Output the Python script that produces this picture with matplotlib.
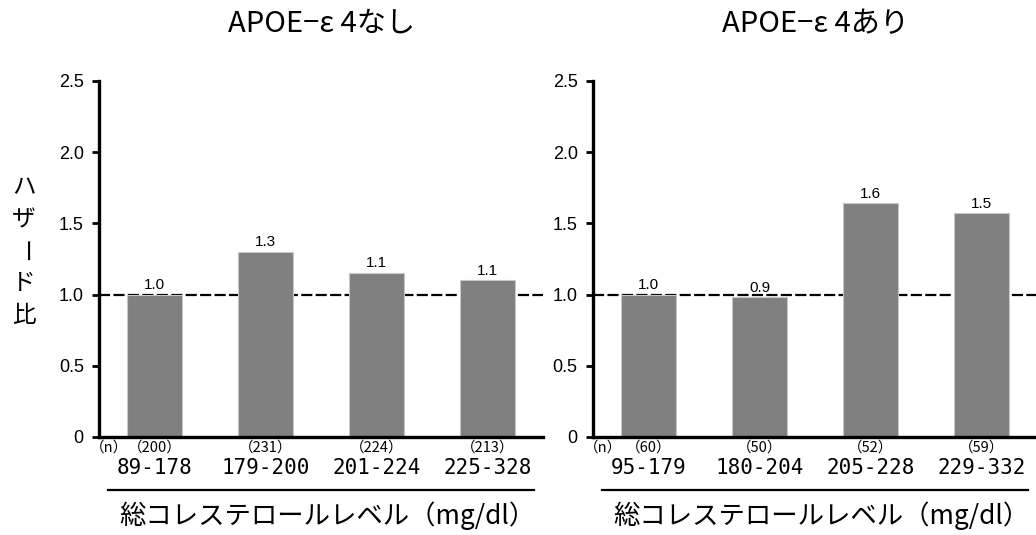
import numpy as np
import matplotlib.pyplot as plt
import matplotlib.transforms as mtransforms

plt.rcParams['font.family'] = ['Noto Sans CJK JP', 'DejaVu Sans']

titles = ["APOE−ε 4なし", "APOE−ε 4あり"]
ranges_left = ["89-178", "179-200", "201-224", "225-328"]
ranges_right = ["95-179", "180-204", "205-228", "229-332"]
n_left = ["200", "231", "224", "213"]
n_right = ["60", "50", "52", "59"]
hr_left = [1.00, 1.30, 1.15, 1.10]
hr_right = [1.00, 0.98, 1.64, 1.57]
lab_left = ["1.0", "1.3", "1.1", "1.1"]
lab_right = ["1.0", "0.9", "1.6", "1.5"]
yticks = [0, 0.5, 1.0, 1.5, 2.0, 2.5]
ytick_labels = ["0", "0.5", "1.0", "1.5", "2.0", "2.5"]

fig = plt.figure(figsize=(10.36, 5.35), dpi=100)
ax1 = fig.add_axes([0.0956, 0.1832, 0.4286, 0.6654])
ax2 = fig.add_axes([0.5724, 0.1832, 0.4286, 0.6654])

panels = [
    (ax1, titles[0], ranges_left, n_left, hr_left, lab_left),
    (ax2, titles[1], ranges_right, n_right, hr_right, lab_right),
]

for ax, title, ranges, ns, vals, labs in panels:
    x = np.arange(len(vals))
    ax.axhline(1.0, color='black', linestyle=(0, (5, 1.5)), linewidth=1.6, zorder=1)
    bars = ax.bar(x, vals, width=0.49, color='#808080', edgecolor='#c8c8c8',
                  linewidth=0.8, zorder=2)
    for b, t in zip(bars, labs):
        ax.text(b.get_x() + b.get_width() / 2, b.get_height() + 0.02, t,
                ha='center', va='bottom', fontsize=11,
                family=['Liberation Sans', 'DejaVu Sans'])
    ax.set_xlim(-0.5, 3.5)
    ax.set_ylim(0, 2.5)
    ax.set_yticks(yticks)
    ax.set_yticklabels(ytick_labels, family=['Liberation Sans', 'DejaVu Sans'],
                       fontsize=13)
    ax.set_xticks([])
    ax.tick_params(axis='y', length=5, width=2, pad=6)
    for s in ['top', 'right']:
        ax.spines[s].set_visible(False)
    for s in ['left', 'bottom']:
        ax.spines[s].set_linewidth(2.4)

    tr = mtransforms.blended_transform_factory(ax.transData, ax.transAxes)
    ax.text(-0.41, -0.031, "（n）", transform=tr, ha='center', va='center', fontsize=10.5)
    for xi, n, r in zip(x, ns, ranges):
        ax.text(xi, -0.031, "（" + n + "）", transform=tr, ha='center', va='center',
                fontsize=10.5)
        ax.text(xi, -0.088, r, transform=tr, ha='center', va='center', fontsize=15,
                family=['DejaVu Sans Mono'])
    ax.plot([-0.42, 3.42], [-0.149, -0.149], transform=tr, color='black',
            linewidth=1.6, clip_on=False)
    ax.text(0.514, -0.222, "総コレステロールレベル（mg/dl）", transform=ax.transAxes,
            ha='center', va='center', fontsize=19)
    ax.text(0.5, 1.16, title, transform=ax.transAxes, ha='center', va='center',
            fontsize=21)

# vertical y label
ylabel_chars = ["ハ", "ザ", "ー", "ド", "比"]
for i, ch in enumerate(ylabel_chars):
    ax1.text(-0.17, 0.70 - i * 0.09, ch, transform=ax1.transAxes, ha='center',
             va='center', fontsize=17, rotation=(-90 if ch == "ー" else 0))

fig.savefig("out.png", dpi=100)
